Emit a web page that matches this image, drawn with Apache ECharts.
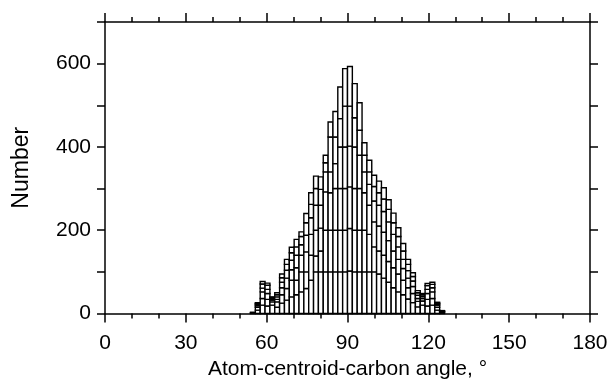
<!DOCTYPE html>
<html>
<head>
<meta charset="utf-8">
<script src="https://cdn.jsdelivr.net/npm/echarts@6/dist/echarts.min.js"></script>
<style>
  html, body { margin: 0; padding: 0; background: #fff; }
  #chart { width: 607px; height: 381px; }
</style>
</head>
<body>
<div id="chart"></div>
<script>
// lower edge of each bin (degrees), bins are 1.8 wide
var binStarts = [54, 55.8, 57.6, 59.4, 61.2, 63, 64.8, 66.6, 68.4, 70.2,
                 72, 73.8, 75.6, 77.4, 79.2, 81, 82.8, 84.6, 86.4, 88.2,
                 90, 91.8, 93.6, 95.4, 97.2, 99, 100.8, 102.6, 104.4, 106.2,
                 108, 109.8, 111.6, 113.4, 115.2, 117, 118.8, 120.6, 122.4, 124.2];
var binWidth = 1.8;

// stacked layers, bottom to top
var layer1 = [1, 8, 20, 18, 20, 15, 25, 32, 40, 45, 52, 60, 80, 100, 100, 100, 100, 100, 100, 100,
              102, 100, 100, 100, 100, 100, 95, 85, 75, 62, 52, 45, 35, 26, 16, 20, 18, 20, 8, 2];
var layer2 = [1, 7, 16, 16, 8, 13, 20, 28, 40, 35, 48, 40, 60, 38, 50, 100, 100, 100, 100, 100,
              102, 100, 100, 100, 90, 60, 55, 55, 50, 48, 43, 35, 27, 22, 13, 10, 16, 16, 7, 2];
var layer3 = [1, 4, 16, 14, 4, 6, 17, 25, 25, 30, 40, 48, 50, 62, 55, 92, 90, 100, 100, 100,
              100, 100, 100, 90, 70, 60, 60, 55, 50, 40, 35, 28, 23, 17, 7, 6, 14, 16, 5, 1];
var layer4 = [0, 3, 9, 10, 3, 6, 13, 19, 23, 30, 25, 40, 40, 60, 55, 48, 50, 60, 100, 100,
              98, 100, 80, 50, 50, 50, 50, 50, 45, 40, 30, 22, 18, 13, 8, 5, 10, 10, 3, 1];
var layer5 = [0, 2, 10, 10, 3, 5, 11, 14, 18, 20, 20, 30, 32, 40, 38, 22, 84, 64, 68, 98,
              96, 70, 60, 40, 30, 35, 30, 30, 30, 28, 25, 20, 15, 11, 6, 4, 9, 8, 2, 1];
var layer6 = [0, 2, 6, 5, 2, 5, 9, 12, 13, 18, 11, 22, 28, 30, 30, 18, 36, 61, 76, 90,
              95, 82, 66, 30, 28, 27, 28, 27, 23, 23, 21, 18, 12, 9, 5, 3, 5, 5, 2, 0];

var layers = [layer1, layer2, layer3, layer4, layer5, layer6];

var chart = echarts.init(document.getElementById('chart'), null, { renderer: 'canvas' });

// rectangles: [x0, x1, base, top]
var rects = [];
for (var i = 0; i < binStarts.length; i++) {
    var base = 0;
    for (var k = 0; k < layers.length; k++) {
        var v = layers[k][i];
        if (v > 0) {
            rects.push([binStarts[i], binStarts[i] + binWidth, base, base + v]);
        }
        base += v;
    }
}

var font = 'Liberation Sans, Arial, Helvetica, sans-serif';
var black = '#000';

function xAxisCfg(pos, showLabel) {
    return {
        type: 'value',
        position: pos,
        min: 0,
        max: 180,
        interval: 30,
        axisLine: { show: true, onZero: false, lineStyle: { color: black, width: 1.5 } },
        axisTick: { show: true, inside: false, length: 9, lineStyle: { color: black, width: 1.5 } },
        minorTick: { show: true, splitNumber: 3, length: 5, lineStyle: { color: black, width: 1.5 } },
        splitLine: { show: false },
        axisLabel: { show: showLabel, color: black, fontSize: 21, fontFamily: font, margin: 19 },
        name: showLabel ? 'Atom-centroid-carbon angle, \u00b0' : '',
        nameLocation: 'middle',
        nameGap: 45,
        nameTextStyle: { color: black, fontSize: 21, fontFamily: font }
    };
}

function yAxisCfg(pos, showLabel) {
    return {
        type: 'value',
        position: pos,
        min: 0,
        max: 700,
        interval: 100,
        axisLine: { show: true, onZero: false, lineStyle: { color: black, width: 1.5 } },
        axisTick: { show: true, inside: false, length: 8, lineStyle: { color: black, width: 1.5 } },
        splitLine: { show: false },
        axisLabel: {
            show: showLabel, color: black, fontSize: 21, fontFamily: font, margin: 14,
            formatter: function (v) { return v % 200 === 0 ? String(v) : ''; }
        },
        name: showLabel ? 'Number' : '',
        nameLocation: 'middle',
        nameGap: 72,
        nameTextStyle: { color: black, fontSize: 23, fontFamily: font }
    };
}

var option = {
    backgroundColor: '#fff',
    animation: false,
    grid: { left: 105, right: 17, top: 22, bottom: 67.5, outerBoundsMode: 'none', containLabel: false },
    xAxis: [xAxisCfg('bottom', true), xAxisCfg('top', false)],
    yAxis: [yAxisCfg('left', true), yAxisCfg('right', false)],
    series: [{
        type: 'custom',
        xAxisIndex: 0,
        yAxisIndex: 0,
        data: rects,
        encode: { x: [0, 1], y: [2, 3] },
        renderItem: function (params, api) {
            var p0 = api.coord([api.value(0), api.value(2)]);
            var p1 = api.coord([api.value(1), api.value(3)]);
            return {
                type: 'rect',
                shape: { x: p0[0], y: p1[1], width: p1[0] - p0[0], height: p0[1] - p1[1] },
                style: { fill: '#fff', stroke: black, lineWidth: 1.4 }
            };
        }
    }]
};

chart.setOption(option);
</script>
</body>
</html>
